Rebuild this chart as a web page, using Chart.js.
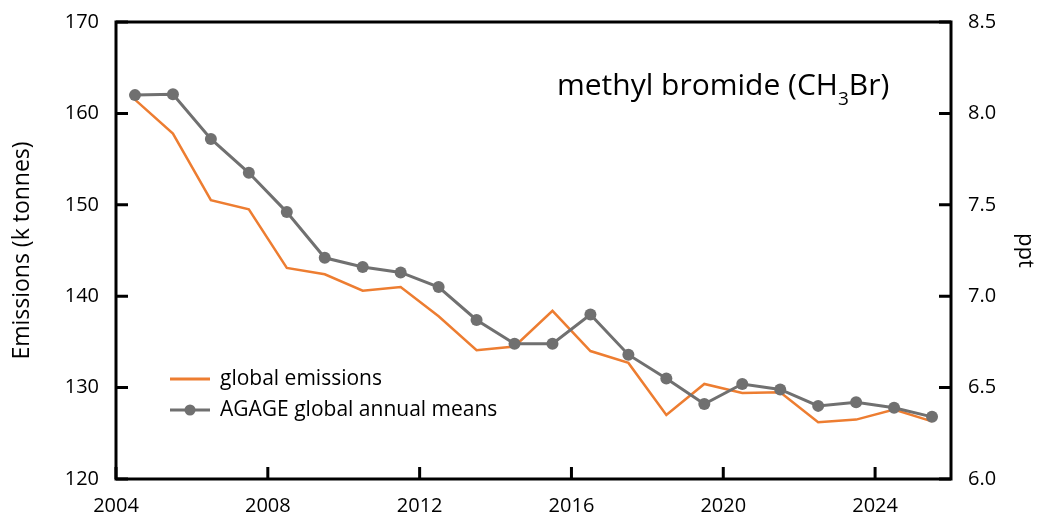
<!DOCTYPE html>
<html>
<head>
<meta charset="utf-8">
<title>Methyl bromide emissions</title>
<script src="https://cdn.jsdelivr.net/npm/chart.js"></script>
<style>
    body { margin: 0; padding: 0; background: #fff; }
    #wrap { width: 1038px; height: 513px; }
</style>
</head>
<body>
<div id="wrap"><canvas id="ch3br"></canvas></div>
<script>
    // mid-year positions of the annual values
    var years = [2004.5, 2005.5, 2006.5, 2007.5, 2008.5, 2009.5, 2010.5, 2011.5, 2012.5, 2013.5, 2014.5,
                 2015.5, 2016.5, 2017.5, 2018.5, 2019.5, 2020.5, 2021.5, 2022.5, 2023.5, 2024.5, 2025.5];

    // global emissions, k tonnes (left axis)
    var emissions = [161.5, 157.8, 150.5, 149.5, 143.1, 142.4, 140.6, 141.0, 137.8, 134.1, 134.5,
                     138.4, 134.0, 132.7, 127.0, 130.4, 129.4, 129.5, 126.2, 126.5, 127.6, 126.3];

    // AGAGE global annual means, ppt (right axis)
    var agageMeans = [8.10, 8.105, 7.86, 7.675, 7.46, 7.21, 7.16, 7.13, 7.05, 6.87, 6.74,
                      6.74, 6.90, 6.68, 6.55, 6.41, 6.52, 6.49, 6.40, 6.42, 6.39, 6.34];

    var xTicks = [2004, 2008, 2012, 2016, 2020, 2024];
    var emissionTicks = [120, 130, 140, 150, 160, 170];
    var pptTicks = [6.0, 6.5, 7.0, 7.5, 8.0, 8.5];

    var ORANGE = '#ED7D31';
    var GREY = '#707070';
    var FONT = "'Open Sans', sans-serif";

    function setTicks(list) {
        return function(scale) {
            scale.ticks = list.map(function(v) { return { value: v }; });
        };
    }

    // box around the plot plus short inward tick marks
    var frameAndTicks = {
        id: 'frameAndTicks',
        afterDatasetsDraw: function(chart) {
            var ctx = chart.ctx, a = chart.chartArea;
            var len = 12;
            ctx.save();
            ctx.strokeStyle = '#000';
            ctx.lineWidth = 3;
            ctx.lineCap = 'butt';
            ctx.beginPath();
            xTicks.forEach(function(v) {
                var px = chart.scales.x.getPixelForValue(v);
                ctx.moveTo(px, a.bottom);
                ctx.lineTo(px, a.bottom - len);
            });
            emissionTicks.forEach(function(v) {
                var py = chart.scales.y.getPixelForValue(v);
                ctx.moveTo(a.left, py);
                ctx.lineTo(a.left + len, py);
            });
            pptTicks.forEach(function(v) {
                var py = chart.scales.y2.getPixelForValue(v);
                ctx.moveTo(a.right, py);
                ctx.lineTo(a.right - len, py);
            });
            ctx.stroke();
            ctx.lineJoin = 'miter';
            ctx.strokeRect(a.left, a.top, a.right - a.left, a.bottom - a.top);
            ctx.restore();
        }
    };

    // chart heading with subscript and the in-plot legend
    var headingAndLegend = {
        id: 'headingAndLegend',
        afterDraw: function(chart) {
            var ctx = chart.ctx, a = chart.chartArea;
            ctx.save();
            ctx.fillStyle = '#000';
            ctx.textBaseline = 'alphabetic';
            ctx.textAlign = 'left';

            var x = a.left + 441, y = a.top + 73;
            var big = '30px ' + FONT, small = '19px ' + FONT;
            var parts = [['methyl bromide (CH', big, 0], ['3', small, 10], ['Br)', big, 0]];
            parts.forEach(function(p) {
                ctx.font = p[1];
                ctx.fillText(p[0], x, y + p[2]);
                x += ctx.measureText(p[0]).width;
            });

            var lx = a.left + 54, tx = a.left + 104;
            var rows = [
                { label: 'global emissions', color: ORANGE, width: 3, dot: false, y: a.top + 357 },
                { label: 'AGAGE global annual means', color: GREY, width: 3, dot: true, y: a.top + 388 }
            ];
            ctx.font = '21px ' + FONT;
            ctx.textBaseline = 'middle';
            rows.forEach(function(r) {
                ctx.strokeStyle = r.color;
                ctx.lineWidth = r.width;
                ctx.beginPath();
                ctx.moveTo(lx, r.y);
                ctx.lineTo(lx + 40, r.y);
                ctx.stroke();
                if (r.dot) {
                    ctx.fillStyle = r.color;
                    ctx.beginPath();
                    ctx.arc(lx + 20, r.y, 5.5, 0, Math.PI * 2);
                    ctx.fill();
                }
                ctx.fillStyle = '#000';
                ctx.fillText(r.label, tx, r.y);
            });
            ctx.restore();
        }
    };

    var config = {
        type: 'line',
        data: {
            datasets: [
                {
                    label: 'AGAGE global annual means',
                    data: years.map(function(x, i) { return { x: x, y: agageMeans[i] }; }),
                    yAxisID: 'y2',
                    borderColor: GREY,
                    backgroundColor: GREY,
                    borderWidth: 3,
                    pointRadius: 6,
                    pointBorderWidth: 0,
                    pointBackgroundColor: GREY,
                    tension: 0,
                    order: 0
                },
                {
                    label: 'global emissions',
                    data: years.map(function(x, i) { return { x: x, y: emissions[i] }; }),
                    yAxisID: 'y',
                    borderColor: ORANGE,
                    borderWidth: 2.5,
                    pointRadius: 0,
                    tension: 0,
                    order: 1
                }
            ]
        },
        options: {
            responsive: true,
            maintainAspectRatio: false,
            animation: false,
            events: [],
            layout: { padding: { top: 22, left: 0, right: 0, bottom: 0 } },
            plugins: {
                legend: { display: false },
                tooltip: { enabled: false }
            },
            scales: {
                x: {
                    type: 'linear',
                    min: 2004,
                    max: 2026,
                    afterBuildTicks: setTicks(xTicks),
                    afterFit: function(s) { s.height = 34; },
                    grid: { display: false },
                    border: { display: false },
                    ticks: {
                        color: '#000',
                        font: { family: FONT, size: 20 },
                        padding: 7,
                        maxRotation: 0,
                        callback: function(v) { return String(v); }
                    }
                },
                y: {
                    position: 'left',
                    min: 120,
                    max: 170,
                    afterBuildTicks: setTicks(emissionTicks),
                    afterFit: function(s) { s.width = 116; },
                    grid: { display: false },
                    border: { display: false },
                    ticks: {
                        color: '#000',
                        font: { family: FONT, size: 20 },
                        padding: 9
                    },
                    title: {
                        display: true,
                        text: 'Emissions (k tonnes)',
                        color: '#000',
                        font: { family: FONT, size: 23 },
                        padding: { top: 9, bottom: 0 }
                    }
                },
                y2: {
                    position: 'right',
                    min: 6,
                    max: 8.5,
                    afterBuildTicks: setTicks(pptTicks),
                    afterFit: function(s) { s.width = 87; },
                    grid: { display: false },
                    border: { display: false },
                    ticks: {
                        color: '#000',
                        font: { family: FONT, size: 20 },
                        padding: 9,
                        callback: function(v) { return Number(v).toFixed(1); }
                    },
                    title: {
                        display: true,
                        text: 'ppt',
                        color: '#000',
                        font: { family: FONT, size: 22 },
                        padding: { top: 0, bottom: 0 }
                    }
                }
            }
        },
        plugins: [frameAndTicks, headingAndLegend]
    };

    new Chart(document.getElementById('ch3br'), config);
</script>
</body>
</html>
